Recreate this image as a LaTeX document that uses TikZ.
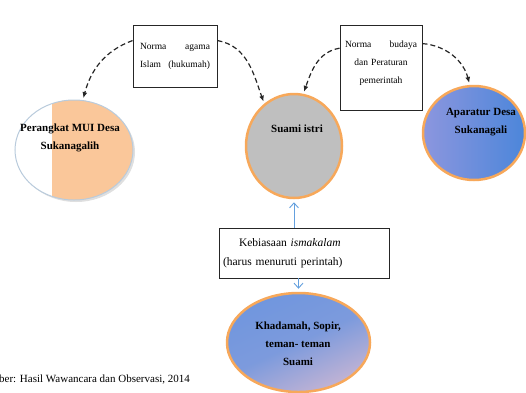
\documentclass[tikz,border=0pt]{standalone}
\usepackage{fontspec}
\setmainfont{Liberation Serif}
\usetikzlibrary{shapes.geometric,arrows.meta,shadows}
\definecolor{orangeline}{RGB}{247,168,90}
\definecolor{suamigray}{RGB}{191,191,191}
\definecolor{peach}{RGB}{250,199,154}
\definecolor{muiline}{RGB}{185,203,220}
\definecolor{aparlight}{RGB}{140,150,222}
\definecolor{apardark}{RGB}{76,134,218}
\definecolor{khadblue}{RGB}{112,150,222}
\definecolor{khadpink}{RGB}{196,180,212}
\definecolor{bluearrow}{RGB}{100,160,222}
\begin{document}
\begin{tikzpicture}[x=1pt,y=-1pt,
  normbox/.style={draw=black!85,line width=0.9pt,fill=white,align=center,
    font=\fontsize{9.5}{18}\selectfont},
  circ/.style={ellipse,draw=orangeline,line width=2.5pt},
  lbl/.style={font=\fontsize{11}{18}\selectfont\bfseries,align=center},
  dasharr/.style={black!85,line width=1.2pt,dash pattern=on 5pt off 3pt,
    -{Latex[length=6pt,width=5pt]},shorten >=2pt},
  bluearr/.style={bluearrow,line width=0.9pt,
    -{Straight Barb[length=5pt,width=9pt]},shorten >=3pt}]
\useasboundingbox (0,0) rectangle (526,392);

% norm boxes
\node[normbox,minimum width=84,minimum height=62,text width=70] (agama) at (175,56)
  {Norma\hfill agama\\Islam\hfill(hukumah)};
\node[normbox,minimum width=82,minimum height=85,text width=72] (budaya) at (381,67.5)
  {Norma\hfill budaya\\dan Peraturan\\pemerintah\\[-8pt]\mbox{}};

% actors
\node[ellipse,draw=muiline,line width=1pt,fill=white,minimum width=118,minimum height=100,
  drop shadow={shadow xshift=2pt,shadow yshift=-2pt,opacity=0.25},
  path picture={\fill[peach] ([xshift=37pt]path picture bounding box.south west)
    rectangle (path picture bounding box.north east);}] (mui) at (74,150) {};
\node[circ,fill=suamigray,minimum width=96,minimum height=104] (suami) at (294,146) {};
\node[circ,left color=aparlight,right color=apardark,minimum width=102,minimum height=94] (apar) at (474,133) {};
\node[circ,top color=khadblue,bottom color=khadpink,middle color=khadblue!85!khadpink,shading angle=25,
  minimum width=143,minimum height=99] (khad) at (298.5,342.5) {};

\node[lbl] (muitxt) at (70,138) {Perangkat MUI Desa\\Sukanagalih};
\node[lbl] (suamitxt) at (297,129) {Suami istri};
\node[lbl] (apartxt) at (481,122) {Aparatur Desa\\Sukanagali};
\node[lbl] (khadtxt) at (298,344) {Khadamah, Sopir,\\teman- teman\\Suami};

% habit box
\node[draw=black!85,line width=0.9pt,fill=white,minimum width=169,minimum height=50,
  text width=163,align=left,font=\fontsize{11.5}{19}\selectfont] (kebiasaan) at (304.5,253)
  {\hspace*{16pt}Kebiasaan \textit{ismakalam}\\(harus menuruti perintah)};

% connectors
\draw[dasharr] (agama.160) to[out=200,in=75] (mui.80);
\draw[dasharr] (agama.20) to[out=-10,in=110] (suami.125);
\draw[dasharr] (budaya.155) to[out=190,in=70] (suami.80);
\draw[dasharr] (budaya.30) to[out=-5,in=105] (apar.95);
\draw[bluearr] (kebiasaan.north -| suami.south) -- (suami.south);
\draw[bluearr] (kebiasaan.south -| khad.north) -- (khad.north);

\node[anchor=base west,inner sep=0,font=\fontsize{11}{13}\selectfont] (sumber) at (-1,382)
  {ber: Hasil Wawancara dan Observasi, 2014};
\end{tikzpicture}
\end{document}
